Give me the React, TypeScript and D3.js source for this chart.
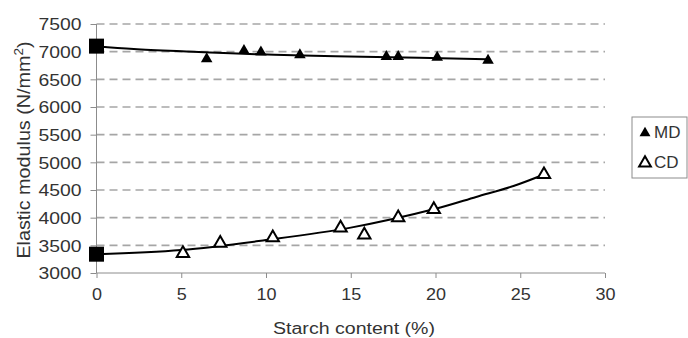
import { useRef, useEffect } from "react";
import * as d3 from "d3";

// points
const mdX = [6.5, 8.7, 9.7, 12, 17.1, 17.8, 20.1, 23.1];
const mdY = [6870, 7020, 6990, 6940, 6910, 6910, 6895, 6840];
const cdX = [5.1, 7.3, 10.4, 14.4, 15.8, 17.8, 19.9, 26.4];
const cdY = [3355, 3540, 3640, 3815, 3690, 4000, 4150, 4780];
const startX = [0, 0];
const startY = [7100, 3340];
// trend lines
const mdTrendX = [0, 2.2, 5.7, 7.9, 12.8, 15.7, 23];
const mdTrendY = [7100, 7050, 7000, 6970, 6925, 6910, 6862];
const cdTrendX = [0, 5, 10, 15, 20, 22.4, 24.6, 26.4];
const cdTrendY = [3340, 3415, 3595, 3820, 4160, 4375, 4572, 4780];
const xTicks = [0, 5, 10, 15, 20, 25, 30];
const yTicks = [3000, 3500, 4000, 4500, 5000, 5500, 6000, 6500, 7000, 7500];
const legendLabels = ["MD", "CD"];

const FONT = "'Liberation Sans', Arial, sans-serif";

export default function App() {
  const svgRef = useRef<SVGSVGElement>(null);

  useEffect(() => {
    if (!svgRef.current) return;
    const svg = d3.select(svgRef.current);
    svg.selectAll("*").remove();

    const x = d3.scaleLinear().domain([0, 30]).range([96.5, 605]);
    const y = d3.scaleLinear().domain([3000, 7500]).range([273, 24]);

    const g = svg.append("g");

    // dashed grid
    g.selectAll(".grid")
      .data(yTicks.filter((d) => d > 3000))
      .join("line")
      .attr("x1", x(0))
      .attr("x2", x(30))
      .attr("y1", (d) => y(d))
      .attr("y2", (d) => y(d))
      .attr("stroke", "#a6a6a6")
      .attr("stroke-width", 1.6)
      .attr("stroke-dasharray", "8,5");

    const xAxis = g
      .append("g")
      .attr("transform", `translate(0,${y(3000)})`)
      .call(
        d3
          .axisBottom(x)
          .tickValues(xTicks)
          .tickFormat(d3.format("d"))
          .tickSize(5)
          .tickPadding(11),
      );
    xAxis
      .selectAll<SVGTextElement, number>("text")
      .attr("fill", "#333")
      .attr("textLength", (d) => String(d).length * 10)
      .attr("lengthAdjust", "spacingAndGlyphs")
      .style("font-family", FONT)
      .style("font-size", "16px");

    const yAxis = g
      .append("g")
      .attr("transform", `translate(${x(0)},0)`)
      .call(
        d3
          .axisLeft(y)
          .tickValues(yTicks)
          .tickFormat(d3.format("d"))
          .tickSize(6)
          .tickPadding(9),
      );
    yAxis
      .selectAll("text")
      .attr("fill", "#333")
      .attr("dy", "0.36em")
      .attr("textLength", 43)
      .attr("lengthAdjust", "spacingAndGlyphs")
      .style("font-family", FONT)
      .style("font-size", "16px");

    g.selectAll(".domain, .tick line").attr("stroke", "#8c8c8c");
    xAxis.select(".domain").attr("d", `M${x(0)},0H${x(30)}`);
    yAxis.select(".domain").attr("d", `M0,${y(7500)}V${y(3000)}`);

    // trend lines
    const line = d3
      .line<[number, number]>()
      .x((d) => x(d[0]))
      .y((d) => y(d[1]))
      .curve(d3.curveCatmullRom.alpha(0.5));
    g.append("path")
      .attr("d", line(mdTrendX.map((v, i) => [v, mdTrendY[i]])))
      .attr("fill", "none")
      .attr("stroke", "#000")
      .attr("stroke-width", 2);
    g.append("path")
      .attr("d", line(cdTrendX.map((v, i) => [v, cdTrendY[i]])))
      .attr("fill", "none")
      .attr("stroke", "#000")
      .attr("stroke-width", 2);

    // start squares
    g.selectAll(".sq")
      .data(startX.map((v, i) => [v, startY[i]]))
      .join("rect")
      .attr("x", (d) => x(d[0]) - 7.5)
      .attr("y", (d) => y(d[1]) - 7.5)
      .attr("width", 15)
      .attr("height", 15)
      .attr("fill", "#000");

    const tri = d3.symbol().type(d3.symbolTriangle);

    g.selectAll(".md")
      .data(mdX.map((v, i) => [v, mdY[i]]))
      .join("path")
      .attr("transform", (d) => `translate(${x(d[0])},${y(d[1])})`)
      .attr("d", tri.size(58)())
      .attr("fill", "#000");

    g.selectAll(".cd")
      .data(cdX.map((v, i) => [v, cdY[i]]))
      .join("path")
      .attr("transform", (d) => `translate(${x(d[0])},${y(d[1])})`)
      .attr("d", tri.size(66)())
      .attr("fill", "#fff")
      .attr("stroke", "#000")
      .attr("stroke-width", 2);

    // axis titles
    svg
      .append("text")
      .attr("x", 354)
      .attr("y", 334)
      .attr("text-anchor", "middle")
      .attr("fill", "#333")
      .attr("textLength", 162)
      .attr("lengthAdjust", "spacingAndGlyphs")
      .style("font-family", FONT)
      .style("font-size", "16px")
      .text("Starch content (%)");

    const yt = svg
      .append("text")
      .attr("transform", "translate(30,150) rotate(-90) scale(1.13,1)")
      .attr("text-anchor", "middle")
      .attr("fill", "#333")
      .style("font-family", FONT)
      .style("font-size", "17.5px");
    yt.append("tspan").text("Elastic modulus (N/mm");
    yt.append("tspan").attr("dy", -7).style("font-size", "12px").text("2");
    yt.append("tspan").attr("dy", 7).text(")");

    // legend
    const lg = svg.append("g");
    lg.append("rect")
      .attr("x", 632)
      .attr("y", 117)
      .attr("width", 55)
      .attr("height", 61)
      .attr("fill", "#fff")
      .attr("stroke", "#8c8c8c");
    const items = lg
      .selectAll(".item")
      .data(legendLabels)
      .join("g")
      .attr("transform", (_, i) => `translate(0,${132 + i * 30})`);
    items
      .append("path")
      .attr("transform", "translate(645,1)")
      .attr("d", (_, i) => tri.size(i === 0 ? 52 : 60)())
      .attr("fill", (_, i) => (i === 0 ? "#000" : "#fff"))
      .attr("stroke", (_, i) => (i === 0 ? "none" : "#000"))
      .attr("stroke-width", 2);
    items
      .append("text")
      .attr("x", 654)
      .attr("y", 0)
      .attr("dy", "0.36em")
      .attr("fill", "#333")
      .style("font-family", FONT)
      .style("font-size", "17px")
      .text((d) => d);
  }, []);

  return (
    <svg
      ref={svgRef}
      width={688}
      height={338}
      style={{ position: "absolute", left: 0, top: 0, background: "#fff" }}
    />
  );
}
